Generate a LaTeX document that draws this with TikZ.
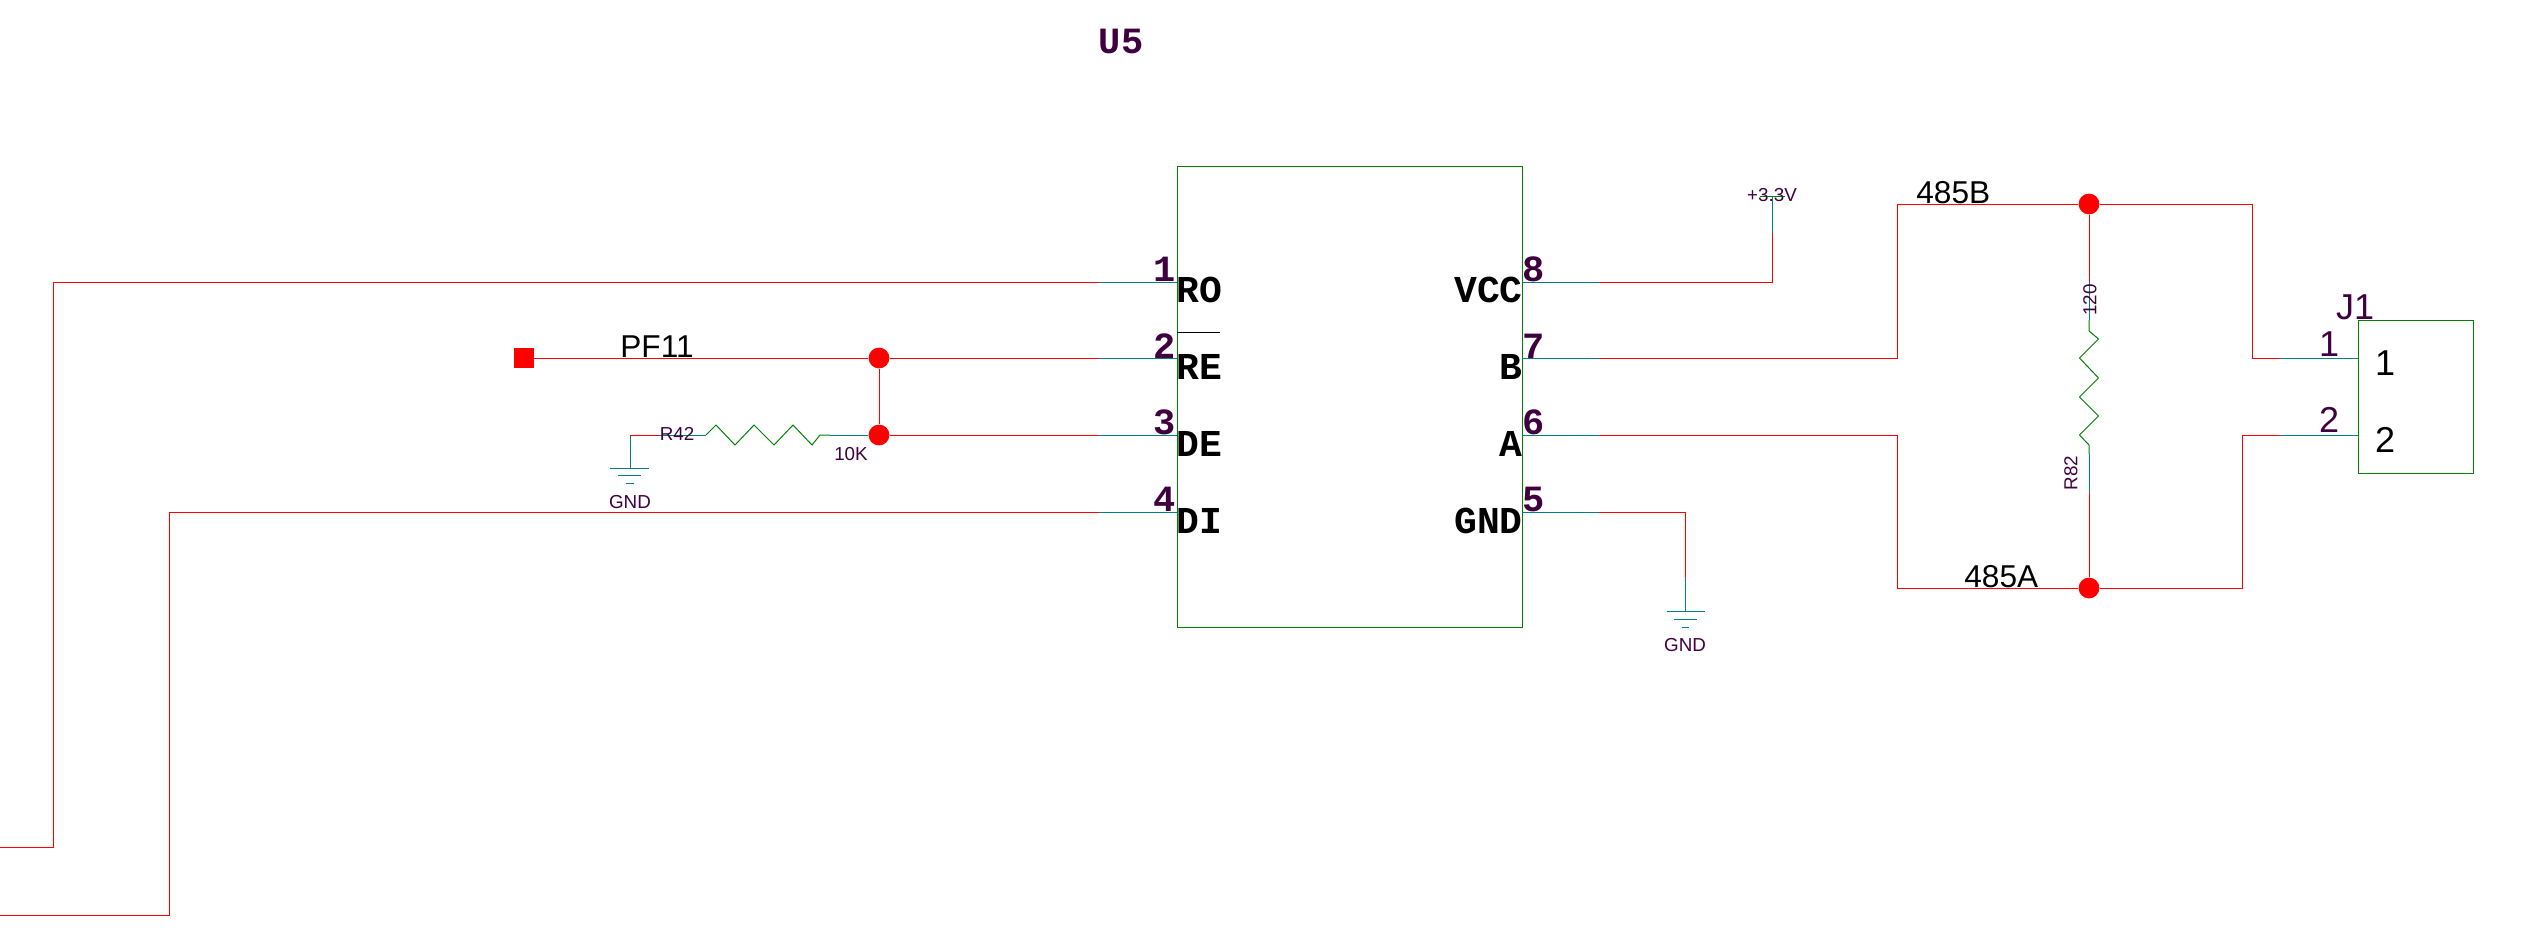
\documentclass[tikz,border=0pt]{standalone}
\usepackage{fontspec}
\setmainfont{Liberation Sans}
\setmonofont{Liberation Mono}
\usepackage{xcolor}
\definecolor{netred}{HTML}{FF0000}
\definecolor{pinteal}{HTML}{008080}
\definecolor{bodygreen}{HTML}{008000}
\definecolor{refpurple}{HTML}{400040}
\tikzset{
    wire/.style={netred, line width=0.5pt},
    stub/.style={pinteal, line width=0.5pt},
    body/.style={bodygreen, line width=0.5pt},
    junction/.style={circle, fill=netred, inner sep=0pt, minimum size=10.4pt},
    pinnum/.style={refpurple, inner sep=0pt, font=\ttfamily\bfseries\fontsize{18.5}{18.5}\selectfont},
    pinname/.style={black, inner sep=0pt, font=\ttfamily\bfseries\fontsize{19}{19}\selectfont},
    netlabel/.style={black, inner sep=0pt, font=\fontsize{15.8}{15.8}\selectfont},
    conlabel/.style={inner sep=0pt, font=\fontsize{18}{18}\selectfont},
    smalllabel/.style={refpurple, inner sep=0pt, font=\fontsize{9.4}{9.4}\selectfont}
}

\begin{document}
\begin{tikzpicture}[x=0.5pt, y=-0.5pt]
    \useasboundingbox (0,0) rectangle (2528,927);

    % U5
    \node[pinnum, font=\ttfamily\bfseries\fontsize{18.5}{18.5}\selectfont] (U5) at (1121, 41) {U5};
    \coordinate (U5nw) at (1177, 166);
    \coordinate (U5se) at (1522, 627);
    \draw[body] (U5nw) rectangle (U5se);

    % pin ends on the chip
    \coordinate (p1) at (1177, 282);
    \coordinate (p2) at (1177, 358);
    \coordinate (p3) at (1177, 435);
    \coordinate (p4) at (1177, 512);
    \coordinate (p5) at (1522, 512);
    \coordinate (p6) at (1522, 435);
    \coordinate (p7) at (1522, 358);
    \coordinate (p8) at (1522, 282);
    \coordinate (s1) at (1099, 282);
    \coordinate (s2) at (1099, 358);
    \coordinate (s3) at (1099, 435);
    \coordinate (s4) at (1099, 512);
    \coordinate (s5) at (1599, 512);
    \coordinate (s6) at (1599, 435);
    \coordinate (s7) at (1599, 358);
    \coordinate (s8) at (1599, 282);
    \draw[stub] (s1) -- (p1);
    \draw[stub] (s2) -- (p2);
    \draw[stub] (s3) -- (p3);
    \draw[stub] (s4) -- (p4);
    \draw[stub] (s5) -- (p5);
    \draw[stub] (s6) -- (p6);
    \draw[stub] (s7) -- (p7);
    \draw[stub] (s8) -- (p8);

    \node[pinnum, anchor=base east] (n1) at (1176, 281) {1};
    \node[pinnum, anchor=base east] (n2) at (1176, 358) {2};
    \node[pinnum, anchor=base east] (n3) at (1176, 434) {3};
    \node[pinnum, anchor=base east] (n4) at (1176, 511) {4};
    \node[pinnum, anchor=base west] (n5) at (1522, 511) {5};
    \node[pinnum, anchor=base west] (n6) at (1522, 434) {6};
    \node[pinnum, anchor=base west] (n7) at (1522, 358) {7};
    \node[pinnum, anchor=base west] (n8) at (1522, 281) {8};

    \node[pinname, anchor=base west] (RO) at (1176, 302) {RO};
    \node[pinname, anchor=base west] (RE) at (1176, 379) {RE};
    \node[pinname, anchor=base west] (DE) at (1176, 456) {DE};
    \node[pinname, anchor=base west] (DI) at (1176, 533) {DI};
    \node[pinname, anchor=base east] (VCC) at (1523, 302) {VCC};
    \node[pinname, anchor=base east] (B) at (1523, 379) {B};
    \node[pinname, anchor=base east] (A) at (1523, 456) {A};
    \node[pinname, anchor=base east] (GNDU) at (1523, 533) {GND};
    \coordinate (barl) at (1177, 332.5);
    \coordinate (barr) at (1220, 332.5);
    \draw[black, line width=0.5pt] (barl) -- (barr);

    % long nets on the left
    \coordinate (ROc) at (53, 282);
    \coordinate (ROd) at (53, 847);
    \coordinate (ROe) at (0, 847);
    \coordinate (DIc) at (169, 512);
    \coordinate (DId) at (169, 915);
    \coordinate (DIe) at (0, 915);
    \draw[wire] (s1) -- (ROc) -- (ROd) -- (ROe);
    \draw[wire] (s4) -- (DIc) -- (DId) -- (DIe);

    % PF11 and R42
    \node[junction] (jRE) at (879, 358) {};
    \node[junction] (jDE) at (879, 435) {};
    \node[rectangle, fill=netred, inner sep=0pt, minimum size=10pt] (PF11pad) at (524, 358) {};
    \node[netlabel, anchor=base west] (PF11) at (620, 357) {PF11};
    \draw[wire] (PF11pad) -- (jRE) -- (s2);
    \draw[wire] (jRE) -- (jDE) -- (s3);

    \coordinate (gndA) at (630, 468);
    \coordinate (r42c) at (630, 435);
    \coordinate (r42a) at (659, 435);
    \coordinate (r42b) at (706, 435);
    \coordinate (r42d) at (820, 435);
    \coordinate (r42e) at (830, 435);
    \draw[stub] (gndA) -- (r42c);
    \draw[wire] (r42c) -- (r42a);
    \draw[stub] (r42a) -- (r42b);
    \draw[body] (r42b) -- ++(10,-10) -- ++(19,20) -- ++(19,-20) -- ++(20,20) -- ++(19,-20) -- ++(19,20) -- (r42d) -- (r42e);
    \draw[stub] (r42e) -- (jDE);
    \draw[stub] (610, 468) -- (649, 468);
    \draw[stub] (618, 475) -- (641, 475);
    \draw[stub] (626, 483) -- (634, 483);
    \node[smalllabel] (R42) at (677, 434) {R42};
    \node[smalllabel] (R42val) at (851, 454) {10K};
    \node[smalllabel] (GNDa) at (630, 502) {GND};

    % GND and +3.3V of the chip
    \coordinate (gndBc) at (1685, 512);
    \coordinate (gndBb) at (1685, 578);
    \coordinate (gndB) at (1685, 611);
    \draw[wire] (s5) -- (gndBc) -- (gndBb);
    \draw[stub] (gndBb) -- (gndB);
    \draw[stub] (1667, 611) -- (1705, 611);
    \draw[stub] (1674, 619) -- (1697, 619);
    \draw[stub] (1682, 627) -- (1689, 627);
    \node[smalllabel] (GNDb) at (1685, 645) {GND};

    \coordinate (vccc) at (1772, 282);
    \coordinate (vccb) at (1772, 233);
    \coordinate (vcca) at (1772, 196);
    \draw[wire] (s8) -- (vccc) -- (vccb);
    \draw[stub] (vccb) -- (vcca);
    \draw[body] (1760, 196) -- (1785, 196);
    \node[smalllabel] (V33) at (1772, 195) {+3.3V};

    % 485 nets and R82
    \node[junction] (jB) at (2089, 204) {};
    \node[junction] (jA) at (2089, 588) {};
    \coordinate (Bc) at (1897, 358);
    \coordinate (Bd) at (1897, 204);
    \coordinate (Ac) at (1897, 435);
    \coordinate (Ad) at (1897, 588);
    \coordinate (Be) at (2252, 204);
    \coordinate (Bf) at (2252, 358);
    \coordinate (Ae) at (2242, 588);
    \coordinate (Af) at (2242, 435);
    \coordinate (j1s) at (2280, 358);
    \coordinate (j2s) at (2280, 435);
    \coordinate (j1p) at (2358, 358);
    \coordinate (j2p) at (2358, 435);
    \draw[wire] (s7) -- (Bc) -- (Bd) -- (jB) -- (Be) -- (Bf) -- (j1s);
    \draw[wire] (s6) -- (Ac) -- (Ad) -- (jA) -- (Ae) -- (Af) -- (j2s);
    \draw[stub] (j1s) -- (j1p);
    \draw[stub] (j2s) -- (j2p);
    \node[netlabel, anchor=base west] (L485B) at (1916, 203) {485B};
    \node[netlabel, anchor=base west] (L485A) at (1964, 587) {485A};

    \coordinate (r82a) at (2089, 282);
    \coordinate (r82b) at (2089, 320);
    \coordinate (r82c) at (2089, 331);
    \coordinate (r82d) at (2089, 445);
    \coordinate (r82e) at (2089, 454);
    \coordinate (r82f) at (2089, 493);
    \draw[wire] (jB) -- (r82a);
    \draw[stub] (r82a) -- (r82b);
    \draw[body] (r82b) -- (r82c) -- ++(9.5,8) -- ++(-19,19) -- ++(19,20) -- ++(-19,19) -- ++(19,19) -- ++(-19,19) -- (r82d) -- (r82e);
    \draw[stub] (r82e) -- (r82f);
    \draw[wire] (r82f) -- (jA);
    \node[smalllabel, rotate=90] (R82val) at (2090, 300) {120};
    \node[smalllabel, rotate=90] (R82) at (2071, 473) {R82};

    % J1
    \coordinate (J1nw) at (2358, 320);
    \coordinate (J1se) at (2473, 473);
    \draw[body] (J1nw) rectangle (J1se);
    \node[conlabel, refpurple, anchor=base] (J1) at (2355, 319) {J1};
    \node[conlabel, refpurple, anchor=base] (j1n) at (2329, 356) {1};
    \node[conlabel, refpurple, anchor=base] (j2n) at (2329, 432) {2};
    \node[conlabel, anchor=base] (j1i) at (2385, 375) {1};
    \node[conlabel, anchor=base] (j2i) at (2385, 452) {2};
\end{tikzpicture}
\end{document}
